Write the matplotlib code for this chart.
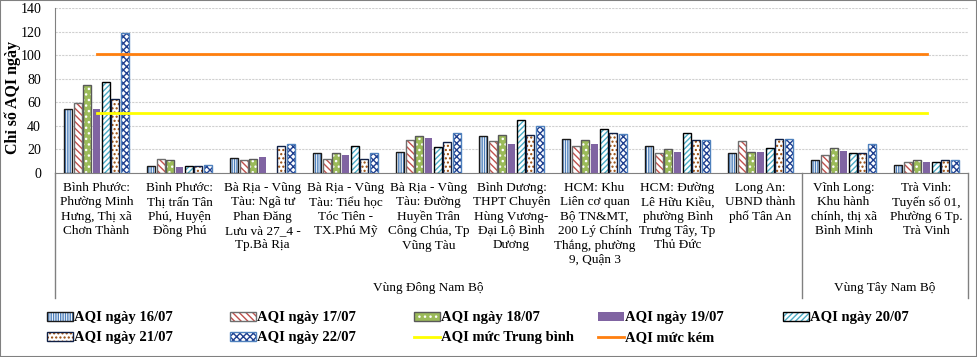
import numpy as np
import matplotlib
matplotlib.use("Agg")
import matplotlib.pyplot as plt
from matplotlib.patches import Rectangle

plt.rcParams["font.family"] = ["Liberation Serif", "DejaVu Serif"]
plt.rcParams["hatch.linewidth"] = 1.0

stations = [
    "Bình Phước:\nPhường Minh\nHưng, Thị xã\nChơn Thành",
    "Bình Phước:\nThị trấn Tân\nPhú, Huyện\nĐồng Phú",
    "Bà Rịa - Vũng\nTàu: Ngã tư\nPhan Đăng\nLưu và 27_4 -\nTp.Bà Rịa",
    "Bà Rịa - Vũng\nTàu: Tiểu học\nTóc Tiên -\nTX.Phú Mỹ",
    "Bà Rịa - Vũng\nTàu: Đường\nHuyền Trân\nCông Chúa, Tp\nVũng Tàu",
    "Bình Dương:\nTHPT Chuyên\nHùng Vương-\nĐại Lộ Bình\nDương",
    "HCM: Khu\nLiên cơ quan\nBộ TN&MT,\n200 Lý Chính\nThắng, phường\n9, Quận 3",
    "HCM: Đường\nLê Hữu Kiều,\nphường Bình\nTrưng Tây, Tp\nThủ Đức",
    "Long An:\nUBND thành\nphố Tân An",
    "Vĩnh Long:\nKhu hành\nchính, thị xã\nBình Minh",
    "Trà Vinh:\nTuyến số 01,\nPhường 6 Tp.\nTrà Vinh",
]
regions = ["Vùng Đông Nam Bộ", "Vùng Tây Nam Bộ"]
region_sizes = [9, 2]

days = ["AQI ngày 16/07", "AQI ngày 17/07", "AQI ngày 18/07", "AQI ngày 19/07",
        "AQI ngày 20/07", "AQI ngày 21/07", "AQI ngày 22/07"]

aqi_16 = [54, 6, 13, 17, 18, 31, 29, 23, 17, 11, 7]
aqi_17 = [59, 12, 11, 12, 28, 27, 23, 17, 27, 15, 9]
aqi_18 = [75, 11, 12, 17, 31, 32, 28, 20, 18, 21, 11]
aqi_19 = [54, 5, 14, 15, 30, 25, 25, 18, 18, 19, 9]
aqi_20 = [77, 6, np.nan, 23, 22, 45, 37, 34, 21, 17, 9]
aqi_21 = [63, 6, 23, 12, 26, 32, 34, 28, 29, 17, 11]
aqi_22 = [119, 7, 25, 17, 34, 40, 33, 28, 29, 25, 11]

aqi_tb = 51
aqi_kem = 101

series = [aqi_16, aqi_17, aqi_18, aqi_19, aqi_20, aqi_21, aqi_22]

# (face, hatch colour, hatch, edge colour)
bar_styles = [
    ("white", "#4F81BD", "|||||||", "#1A1A1A"),
    ("white", "#C0504D", "\\\\\\\\\\", "#6E6E6E"),
    ("#9BBB59", "white", "...", "#595959"),
    ("#8064A2", "#8064A2", "", "none"),
    ("white", "#4BACC6", "//////", "#000000"),
    ("white", "#984807", "....", "#0F1F45"),
    ("white", "#1F3F8F", "xxxxx", "#4F81BD"),
]

fig = plt.figure(figsize=(9.77, 3.57), dpi=100)
ax = fig.add_axes([0.0563, 0.5154, 0.9345, 0.4622])

n = len(series)
x = np.arange(len(stations))
slot = 0.8 / n
width = slot * 0.84
handles = []
for i, (vals, (face, hcol, hatch, ecol)) in enumerate(zip(series, bar_styles)):
    vals = np.array(vals, dtype=float)
    pos = x - 0.4 + slot * (i + 0.5)
    ok = np.isfinite(vals)
    b1 = ax.bar(pos[ok], vals[ok], width, color=face, edgecolor=hcol,
                hatch=hatch, linewidth=0, zorder=3)
    b2 = ax.bar(pos[ok], vals[ok], width, fill=False, edgecolor=ecol,
                linewidth=1.0 if ecol != "none" else 0, zorder=4)
    handles.append((b1.patches[0], b2.patches[0]))

l_tb, = ax.plot([x[0], x[-1]], [aqi_tb, aqi_tb], color="#FFFF00", lw=2, zorder=5)
l_kem, = ax.plot([x[0], x[-1]], [aqi_kem, aqi_kem], color="#FF7F0E", lw=2, zorder=5)

ax.set_xlim(-0.5, len(stations) - 0.5)
ax.set_ylim(0, 140)
ax.set_yticks(range(0, 141, 20))
ax.tick_params(axis="y", length=0, labelsize=10, pad=10)
ax.set_xticks([])
ax.grid(axis="y", color="#D0D0D0", linestyle=(0, (2, 1)), linewidth=0.8, zorder=0)
ax.set_axisbelow(True)
for s in ["top", "right"]:
    ax.spines[s].set_visible(False)
ax.spines["left"].set_color("#808080")
ax.spines["bottom"].set_color("#808080")
fig.text(13 / 977, 1 - 98 / 357, "Chỉ số AQI ngày", rotation=90,
         ha="center", va="center", fontsize=11.5, fontweight="bold")

trans = ax.get_xaxis_transform()
for i, name in enumerate(stations):
    ax.text(i, -0.055, name, transform=trans, ha="center", va="top",
            fontsize=9.5, linespacing=1.25, multialignment="center")

bottom = -0.758
edges = np.concatenate([[0], np.cumsum(region_sizes)]) - 0.5
for e in edges:
    ax.plot([e, e], [0, bottom], transform=trans, color="#808080", lw=1,
            clip_on=False)
for j, r in enumerate(regions):
    ax.text((edges[j] + edges[j + 1]) / 2, -0.695, r, transform=trans,
            ha="center", va="center", fontsize=9.5)

labels = days + ["AQI mức Trung bình", "AQI mức kém"]
all_h = handles + [l_tb, l_kem]
col_x = [47, 230, 414, 598, 783]
row_y = [318, 338]
for k, (h, lab) in enumerate(zip(all_h, labels)):
    r, c = divmod(k, 5)
    fig.legend([h], [lab], loc="center left",
               bbox_to_anchor=(col_x[c] / 977, 1 - row_y[r] / 357),
               frameon=False, prop={"weight": "bold", "size": 10.5},
               handlelength=1.75, handleheight=0.6, handletextpad=0.1,
               borderpad=0, borderaxespad=0)

fig.patches.append(Rectangle((0, 0), 1, 1, transform=fig.transFigure,
                             fill=False, edgecolor="#808080", lw=1.5))

fig.savefig("out.png", dpi=100)
